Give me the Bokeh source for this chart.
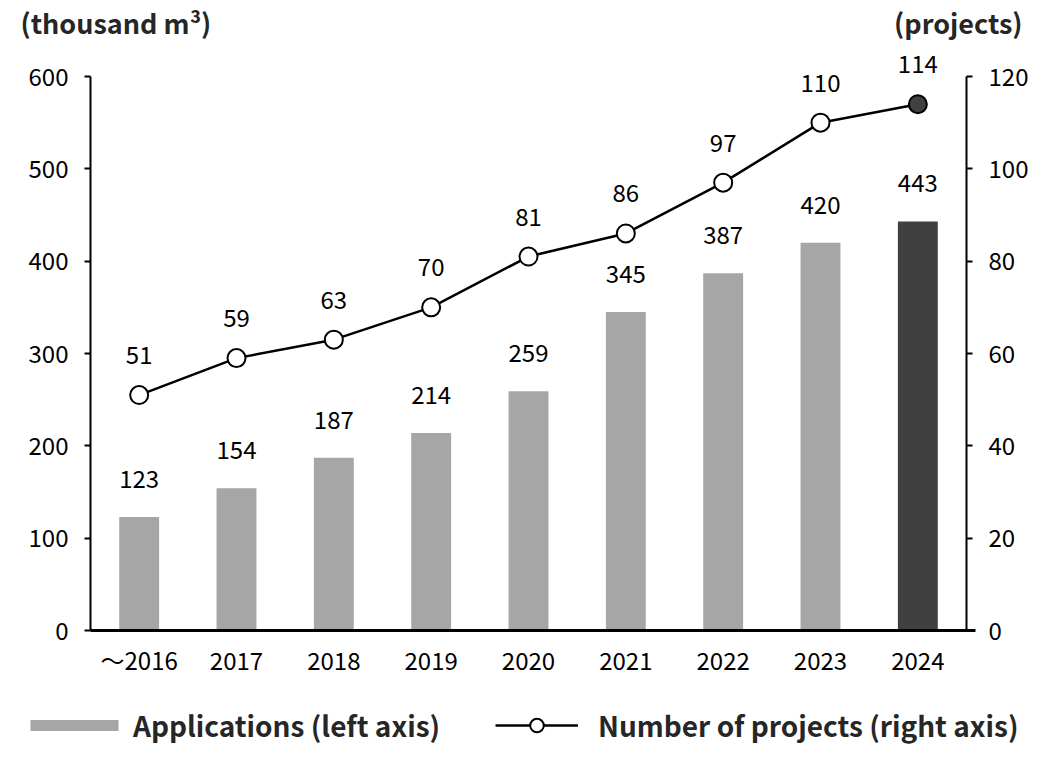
from bokeh.plotting import figure
from bokeh.models import (ColumnDataSource, LinearAxis, Range1d, FixedTicker, LabelSet,
                          Label, Legend, LegendItem)
from bokeh.core.properties import value
from bokeh.embed import file_html
from bokeh.resources import INLINE

years = ["～2016", "2017", "2018", "2019", "2020", "2021", "2022", "2023", "2024"]
applications = [123, 154, 187, 214, 259, 345, 387, 420, 443]
projects = [51, 59, 63, 70, 81, 86, 97, 110, 114]
bar_colors = ["#a6a6a6"] * 8 + ["#404040"]
marker_fill = ["#ffffff"] * 8 + ["#404040"]
left_ticks = [0, 100, 200, 300, 400, 500, 600]
right_ticks = [0, 20, 40, 60, 80, 100, 120]

FONT = "Noto Sans CJK JP"
W, H = 1043, 758
# layout of the plotting area inside the canvas (pixels)
AX_L, AX_R, AX_TOP, AX_BOT = 90, 966, 76, 630
n = len(years)
px_cat = (AX_R - AX_L) / n
px_val = (AX_BOT - AX_TOP) / 600.0
x_start = -0.5 - AX_L / px_cat
x_end = n - 0.5 + (W - AX_R) / px_cat
y_start = -(H - AX_BOT) / px_val
y_end = 600 + AX_TOP / px_val
ratio = 600 / 120

xs = list(range(n))
src = ColumnDataSource(dict(
    x=xs, apps=applications, proj=projects,
    apps_txt=[str(v) for v in applications],
    proj_txt=[str(v) for v in projects],
    bar_color=bar_colors, mfill=marker_fill,
))

p = figure(x_range=Range1d(x_start, x_end), y_range=Range1d(y_start, y_end),
           width=W, height=H, min_border=0,
           output_backend="svg", toolbar_location=None)
p.extra_y_ranges = {"right": Range1d(y_start / ratio, y_end / ratio)}

p.outline_line_color = None
p.xgrid.grid_line_color = None
p.ygrid.grid_line_color = None

bars = p.vbar(x="x", top="apps", width=0.41, source=src, fill_color="bar_color", line_color=None)
line = p.line(x="x", y="proj", source=src, y_range_name="right", line_color="black", line_width=2.5)
marks = p.scatter(x="x", y="proj", source=src, y_range_name="right", size=18,
                  fill_color="mfill", line_color="black", line_width=2)


def style_axis(ax):
    ax.major_label_text_font = FONT
    ax.major_label_text_font_size = "24px"
    ax.major_label_text_color = "#000000"
    ax.axis_line_color = "black"
    ax.axis_line_width = 2
    ax.major_tick_line_color = "black"
    ax.major_tick_line_width = 2
    ax.major_tick_in = 0
    ax.major_tick_out = 6
    ax.minor_tick_line_color = None
    ax.major_label_standoff = 16


yl = p.yaxis[0]
yl.ticker = FixedTicker(ticks=left_ticks)
yl.bounds = (0, 600)
yl.fixed_location = -0.5
style_axis(yl)

yr = LinearAxis(y_range_name="right", ticker=FixedTicker(ticks=right_ticks))
yr.bounds = (0, 120)
yr.fixed_location = n - 0.5
style_axis(yr)
p.add_layout(yr, "right")

xa = p.xaxis[0]
xa.ticker = FixedTicker(ticks=xs)
xa.major_label_overrides = {i: years[i] for i in xs}
xa.bounds = (-0.5, n - 0.5 + 9 / px_cat)
xa.fixed_location = 0
style_axis(xa)
xa.major_tick_line_color = None
xa.axis_line_width = 3
xa.major_label_standoff = 5

# value labels
p.add_layout(LabelSet(x="x", y="apps", text="apps_txt", source=src,
                      text_align="center", text_baseline="middle", y_offset=38,
                      text_font=value(FONT), text_font_size=value("24px"), text_color="black"))
p.add_layout(LabelSet(x="x", y="proj", text="proj_txt", source=src, y_range_name="right",
                      text_align="center", text_baseline="middle", y_offset=40,
                      text_font=value(FONT), text_font_size=value("24px"), text_color="black"))

# unit titles
p.add_layout(Label(x=20, y=H - 22, x_units="screen", y_units="screen", text="(thousand m³)",
                   text_align="left", text_baseline="middle", text_font=FONT,
                   text_font_size="27px", text_font_style="bold", text_color="#262626"))
p.add_layout(Label(x=1022, y=H - 22, x_units="screen", y_units="screen", text="(projects)",
                   text_align="right", text_baseline="middle", text_font=FONT,
                   text_font_size="27px", text_font_style="bold", text_color="#262626"))

common = dict(orientation="horizontal", label_text_font=FONT, label_text_font_size="28px",
              label_text_font_style="bold", label_text_color="#262626",
              padding=0, margin=0, border_line_color=None, background_fill_alpha=0)
legend1 = Legend(items=[LegendItem(label="Applications (left axis)", renderers=[bars])],
                 location=(19, 13), glyph_width=110, glyph_height=14, label_standoff=4, **common)
legend2 = Legend(items=[LegendItem(label="Number of projects (right axis)", renderers=[line, marks])],
                 location=(495, 13), glyph_width=83, glyph_height=34, label_standoff=20, **common)
p.add_layout(legend1)
p.add_layout(legend2)

open("out.html", "w").write(file_html(p, INLINE))
